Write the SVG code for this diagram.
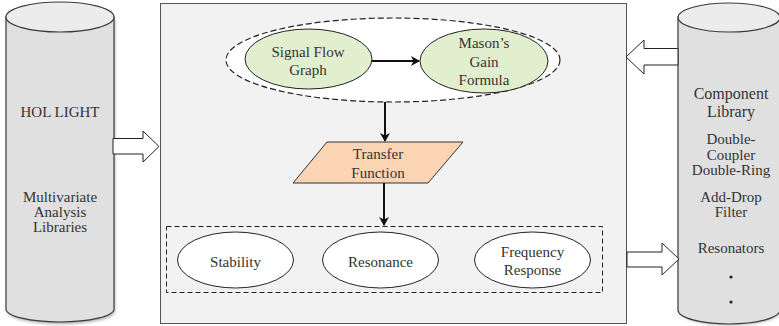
<svg xmlns="http://www.w3.org/2000/svg" width="779" height="326" viewBox="0 0 779 326" font-family="'Liberation Serif', 'Times New Roman', 'DejaVu Serif', serif">
<defs>
<style>
text{font-family:'Liberation Serif','Times New Roman','DejaVu Serif',serif;font-size:15px;fill:#333;text-anchor:middle}
.cyl{fill:#e0e0e0;stroke:#3a3a3a;stroke-width:1.2}
.cyltop{fill:#ececec;stroke:#3a3a3a;stroke-width:1.2}
.green{fill:#e2efcf;stroke:#222;stroke-width:1}
.white{fill:#fff;stroke:#222;stroke-width:1}
.dash{fill:none;stroke:#222;stroke-width:1;stroke-dasharray:5,3}
.blk{fill:#fff;stroke:#222;stroke-width:1}
.conn{stroke:#111;stroke-width:2;fill:none}
</style>
<marker id="ah" markerWidth="10" markerHeight="10" refX="8" refY="5" orient="auto" markerUnits="userSpaceOnUse">
<path d="M0,0 L9,5 L0,10 L2.5,5 Z" fill="#111"/>
</marker>
<filter id="sh" x="-10%" y="-10%" width="120%" height="120%"><feGaussianBlur stdDeviation="1.5"/></filter>
</defs>

<g id="main-box">
<rect x="160.5" y="3.5" width="466" height="320" fill="#f2f2f2" stroke="#555" stroke-width="1"/>
</g>

<g id="hol-light">
<path d="M6,17 L6,309 A54,13 0 0 0 114,309 L114,17" fill="#555" opacity="0.5" filter="url(#sh)" transform="translate(1,2)"/>
<path class="cyl" d="M6,17 L6,309 A54,13 0 0 0 114,309 L114,17 Z"/>
<ellipse class="cyltop" cx="60" cy="17" rx="54" ry="15"/>
<text x="60" y="117">HOL LIGHT</text>
<text x="60" y="202">Multivariate</text>
<text x="60" y="217">Analysis</text>
<text x="60" y="232">Libraries</text>
</g>

<g id="component-library">
<path d="M678,17 L678,310 A51,14 0 0 0 780,310 L780,17" fill="#555" opacity="0.5" filter="url(#sh)" transform="translate(1,1)"/>
<path class="cyl" d="M678,17 L678,310 A51,14 0 0 0 780,310 L780,17 Z"/>
<ellipse class="cyltop" cx="729" cy="17.5" rx="51" ry="14.5"/>
<text x="731" y="99" style="font-size:16px">Component</text>
<text x="731" y="117" style="font-size:16px">Library</text>
<text x="731" y="144">Double-</text>
<text x="731" y="160">Coupler</text>
<text x="731" y="175">Double-Ring</text>
<text x="731" y="202">Add-Drop</text>
<text x="731" y="217">Filter</text>
<text x="731" y="253">Resonators</text>
<circle cx="731" cy="277" r="1.6" fill="#222"/>
<circle cx="731" cy="302" r="1.6" fill="#222"/>
</g>

<g id="sfg-group">
<ellipse class="white" cx="393" cy="60" rx="167" ry="42" style="stroke-dasharray:6,3;stroke-width:1.2"/>
</g>

<g id="signal-flow-graph">
<ellipse class="green" cx="308.5" cy="59" rx="63.5" ry="30"/>
<text x="308" y="57">Signal Flow</text>
<text x="308" y="75">Graph</text>
</g>

<g id="masons-gain-formula">
<ellipse class="green" cx="484" cy="61" rx="64" ry="32"/>
<text x="484" y="48">Mason’s</text>
<text x="484" y="67">Gain</text>
<text x="484" y="85">Formula</text>
</g>

<g id="transfer-function">
<polygon points="327,142 463,142 428,183 293,183" fill="#fbd4b4" stroke="#333" stroke-width="1"/>
<text x="378" y="159">Transfer</text>
<text x="378" y="178">Function</text>
</g>

<g id="analysis-group">
<rect class="dash" x="166.5" y="226.5" width="436" height="66"/>
</g>

<g id="stability">
<ellipse class="white" cx="235.5" cy="260" rx="58" ry="28"/>
<text x="235.5" y="267">Stability</text>
</g>
<g id="resonance">
<ellipse class="white" cx="380.5" cy="260" rx="58" ry="28"/>
<text x="380.5" y="267">Resonance</text>
</g>
<g id="frequency-response">
<ellipse class="white" cx="532.5" cy="260" rx="58" ry="28"/>
<text x="532.5" y="257">Frequency</text>
<text x="532.5" y="275">Response</text>
</g>

<g id="connectors">
<line class="conn" x1="372" y1="61" x2="419" y2="61" marker-end="url(#ah)"/>
<line class="conn" x1="385" y1="102" x2="385" y2="141" marker-end="url(#ah)"/>
<line class="conn" x1="384" y1="183" x2="384" y2="225" marker-end="url(#ah)"/>
<polygon class="blk" points="113,138.5 143,138.5 143,131 159,146.5 143,162 143,154 113,154"/>
<polygon class="blk" points="678,48.5 644,48.5 644,40 626,57 644,74 644,65 678,65"/>
<polygon class="blk" points="627,252 662,252 662,243 679,259 662,275 662,267 627,267"/>
</g>
</svg>
